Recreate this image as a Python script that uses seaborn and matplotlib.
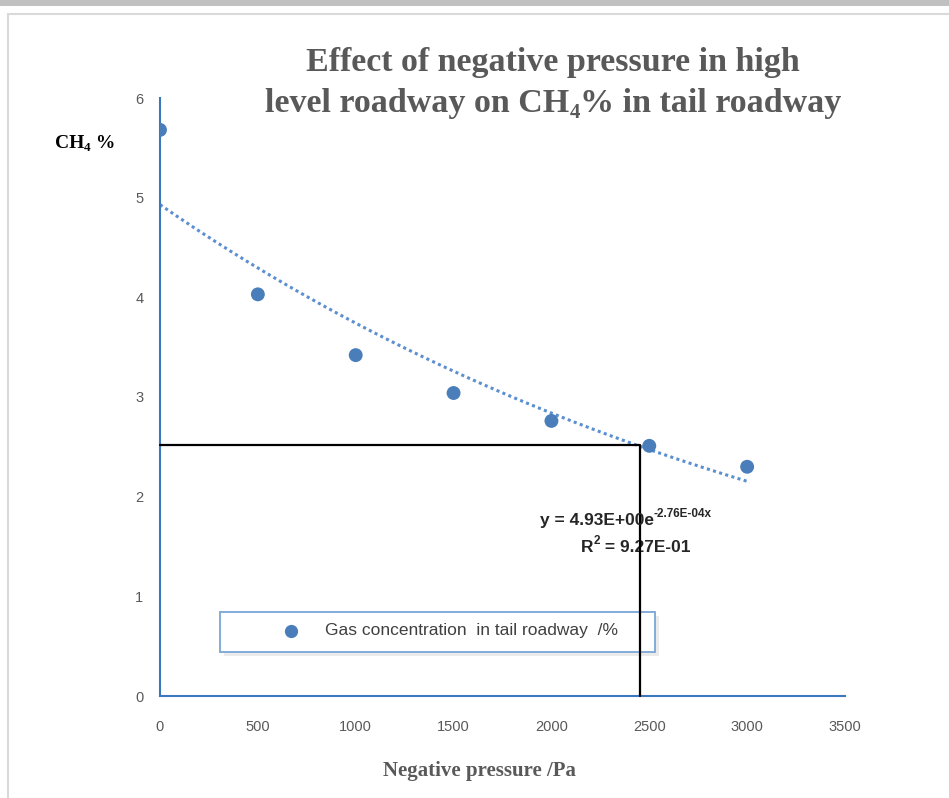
import numpy as np
import pandas as pd
import matplotlib
matplotlib.use("Agg")
import matplotlib.pyplot as plt
import seaborn as sns
from matplotlib.patches import Rectangle

# Data
pressure = [0, 500, 1000, 1500, 2000, 2500, 3000]
ch4 = [5.68, 4.03, 3.42, 3.04, 2.76, 2.51, 2.30]
fit_a = 4.93
fit_b = -2.76e-4
marker_x = 2455
marker_y = 2.52
x_ticks = [0, 500, 1000, 1500, 2000, 2500, 3000, 3500]
y_ticks = [0, 1, 2, 3, 4, 5, 6]

sns.set_theme(style="white")
plt.rcParams['font.family'] = ['Liberation Sans', 'DejaVu Sans']

W, H = 949, 798
fig = plt.figure(figsize=(9.49, 7.98), dpi=100)
fig.patch.set_facecolor("white")
# outer frame like a screenshot
fig.patches.append(Rectangle((0, 1 - 6/H), 1, 6/H, transform=fig.transFigure,
                             facecolor="#c0c0c0", edgecolor="none", zorder=0))
fig.patches.append(Rectangle((8/W, -0.01), 1.0, 1 - 14/H + 0.01, transform=fig.transFigure,
                             facecolor="none", edgecolor="#d9d9d9", lw=1.5, zorder=0))

ax = fig.add_axes([160/W, 102/H, 685/W, 598/H])

df = pd.DataFrame({"pressure": pressure, "ch4": ch4})
xs = np.linspace(0, 3000, 200)
trend = pd.DataFrame({"x": xs, "y": fit_a * np.exp(fit_b * xs)})

sns.lineplot(data=trend, x="x", y="y", ax=ax, color="#5b8fd0", lw=2.2,
             linestyle=(0, (1, 1.1)), zorder=2)
sns.scatterplot(data=df, x="pressure", y="ch4", ax=ax, color="#4a7ebb", s=100,
                edgecolor="none", zorder=3, legend=False)

ax.plot([0, marker_x, marker_x], [marker_y, marker_y, 0], color="black", lw=1.6, zorder=8,
        clip_on=False)

ax.set_xlim(0, 3500)
ax.set_ylim(0, 6)
ax.set_xticks(x_ticks)
ax.set_yticks(y_ticks)
ax.set_xlabel("")
ax.set_ylabel("")
for s in ["top", "right"]:
    ax.spines[s].set_visible(False)
for s in ["left", "bottom"]:
    ax.spines[s].set_color("#3a78c0")
    ax.spines[s].set_linewidth(1.5)
ax.tick_params(axis="both", direction="in", length=5, width=1.3, color="#3a78c0",
               labelcolor="#595959", labelsize=10.5)
ax.tick_params(axis="x", pad=17)
ax.tick_params(axis="y", pad=12)

# Legend box (placed in figure pixel coords, under the black guide line)
bx0, bx1, by0, by1 = 220, 655, 612, 652
ax.add_patch(Rectangle(((bx0 + 4)/W, 1 - (by1 + 4)/H), (bx1 - bx0)/W, (by1 - by0)/H,
                       transform=fig.transFigure, facecolor="#e6e6e6", edgecolor="none",
                       zorder=4, alpha=0.8, clip_on=False))
ax.add_patch(Rectangle((bx0/W, 1 - by1/H), (bx1 - bx0)/W, (by1 - by0)/H,
                       transform=fig.transFigure, facecolor="white", edgecolor="#7aa6d8",
                       lw=1.3, zorder=5, clip_on=False))
leg_y = 1 - 631/H
fig.add_artist(plt.Line2D([291/W], [leg_y], marker="o", markersize=8.5, color="#4a7ebb",
                          linestyle="none", transform=fig.transFigure, zorder=6))
fig.text(325/W, leg_y, "Gas concentration  in tail roadway  /%", ha="left", va="center",
         fontsize=12.5, color="#404040", zorder=6)

# Titles and labels
serif = "Liberation Serif"
tcol = "#595959"
tsize = 24.5
fig.text(553/W, 1 - 63/H, "Effect of negative pressure in high", ha="center", va="center",
         fontsize=tsize, fontweight="bold", color=tcol, family=serif)
t1 = fig.text(265/W, 1 - 100/H, "level roadway on CH", ha="left", va="center_baseline",
              fontsize=tsize, fontweight="bold", color=tcol, family=serif)
a1 = ax.annotate("4", xy=(1, 0.0), xycoords=t1, xytext=(0, -3), textcoords="offset points",
                 ha="left", va="bottom", fontsize=15, fontweight="bold", color=tcol, family=serif,
                 annotation_clip=False)
ax.annotate("% in tail roadway", xy=(1, 0.0), xycoords=a1, xytext=(0, 3), textcoords="offset points",
            ha="left", va="bottom", fontsize=tsize, fontweight="bold", color=tcol, family=serif,
            annotation_clip=False)

y1 = fig.text(55/W, 1 - 143/H, "CH", ha="left", va="center",
              fontsize=14, fontweight="bold", color="black", family=serif)
y2 = ax.annotate("4", xy=(1, 0.0), xycoords=y1, xytext=(0, -2), textcoords="offset points",
                 ha="left", va="bottom", fontsize=9.5, fontweight="bold", color="black",
                 family=serif, annotation_clip=False)
ax.annotate(" %", xy=(1, 0.0), xycoords=y2, xytext=(0, 2), textcoords="offset points",
            ha="left", va="bottom", fontsize=14, fontweight="bold", color="black",
            family=serif, annotation_clip=False)

fig.text(479/W, 1 - 771/H, "Negative pressure /Pa", ha="center", va="center",
         fontsize=15, fontweight="bold", color=tcol, family=serif)

# Trendline equation
e1 = fig.text(540/W, 1 - 521/H, "y = 4.93E+00e", ha="left", va="center",
              fontsize=12.5, fontweight="bold", color="#262626")
ax.annotate("-2.76E-04x", xy=(1, 0.55), xycoords=e1, ha="left", va="bottom",
            fontsize=8.5, fontweight="bold", color="#262626", annotation_clip=False)
r1 = fig.text(581/W, 1 - 548/H, "R", ha="left", va="center",
              fontsize=12.5, fontweight="bold", color="#262626")
ax.annotate("2", xy=(1, 0.55), xycoords=r1, ha="left", va="bottom",
            fontsize=8.5, fontweight="bold", color="#262626", annotation_clip=False)
ax.annotate(" = 9.27E-01", xy=(1, 0.0), xycoords=r1, xytext=(5, 0), textcoords="offset points",
            ha="left", va="bottom", fontsize=12.5, fontweight="bold", color="#262626",
            annotation_clip=False)

fig.savefig("out.png", dpi=100)
